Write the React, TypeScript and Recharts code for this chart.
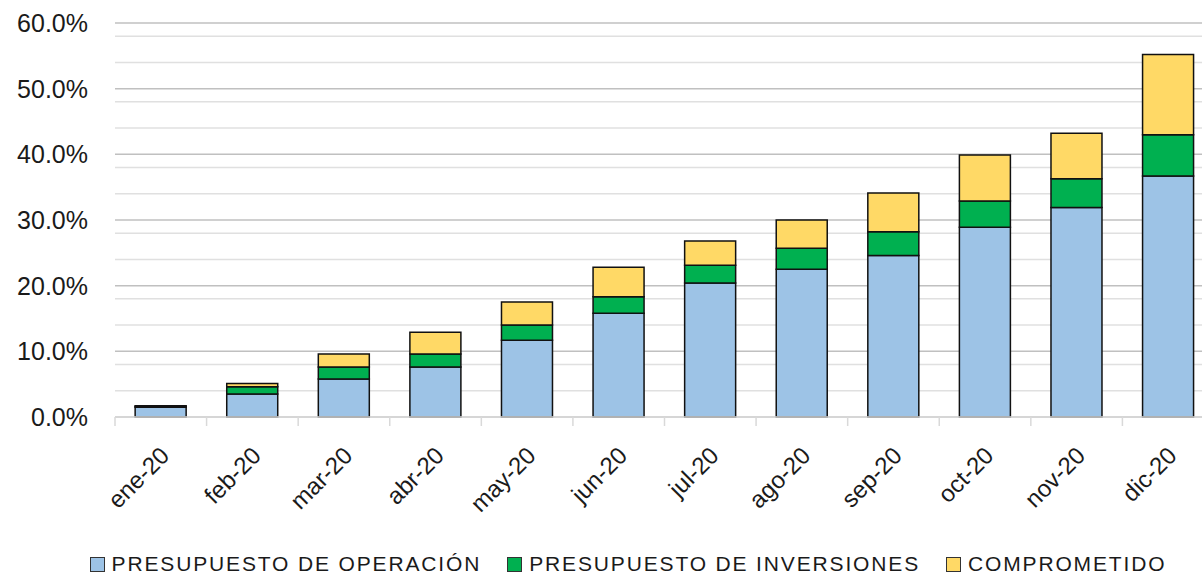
import React from "react"
import { Bar, BarChart, CartesianGrid, Legend, XAxis, YAxis } from "recharts"

const months = ["ene-20", "feb-20", "mar-20", "abr-20", "may-20", "jun-20", "jul-20", "ago-20", "sep-20", "oct-20", "nov-20", "dic-20"]
const operacion = [1.5, 3.5, 5.8, 7.6, 11.7, 15.8, 20.4, 22.5, 24.6, 28.9, 31.9, 36.7]
const inversiones = [0.1, 1.1, 1.8, 2.0, 2.3, 2.5, 2.7, 3.2, 3.6, 4.0, 4.4, 6.3]
const comprometido = [0.1, 0.5, 2.0, 3.3, 3.5, 4.5, 3.7, 4.3, 5.9, 7.0, 6.9, 12.2]

const yTicks = [0, 10, 20, 30, 40, 50, 60]
const minorLines = [2, 4, 6, 8, 12, 14, 16, 18, 22, 24, 26, 28, 32, 34, 36, 38, 42, 44, 46, 48, 52, 54, 56, 58]

const series = [
    { key: "operacion", name: "PRESUPUESTO DE OPERACIÓN", color: "#9dc3e6" },
    { key: "inversiones", name: "PRESUPUESTO DE INVERSIONES", color: "#00b050" },
    { key: "comprometido", name: "COMPROMETIDO", color: "#ffd966" },
]

const data = months.map((m, i) => ({
    month: m,
    operacion: operacion[i],
    inversiones: inversiones[i],
    comprometido: comprometido[i],
}))

const FONT = '"Liberation Sans", Arial, sans-serif'
const TEXT = "#1a1a1a"

const MonthTick = ({ x, y, payload }: any) => {
    const half = payload.offset || 0
    return (
        <g>
            <line x1={x - half} y1={y} x2={x - half} y2={y + 9} stroke="#d9d9d9" strokeWidth={1.5} />
            <g transform={`translate(${x + 10},${y + 40})`}>
                <text textAnchor="end" transform="rotate(-45)" fontSize={24} fontFamily={FONT} fill={TEXT}>
                    {payload.value}
                </text>
            </g>
        </g>
    )
}

const LegendBox = () => (
    <div style={{ display: "flex", justifyContent: "center", alignItems: "center", height: 40, paddingTop: 8, paddingLeft: 42, fontFamily: FONT, fontSize: 21, color: TEXT, letterSpacing: 1.85, whiteSpace: "nowrap" }}>
        {series.map((s, i) => (
            <div key={s.key} style={{ display: "flex", alignItems: "center", marginLeft: i ? 26 : 0 }}>
                <span style={{ width: 13, height: 13, background: s.color, border: "1px solid #333", marginRight: 7, display: "inline-block" }} />
                <span>{s.name}</span>
            </div>
        ))}
    </div>
)

export default function App() {
    return (
        <div style={{ position: "absolute", left: 0, top: 0, width: 1202, height: 576, overflow: "hidden", background: "#fff" }}>
            <BarChart width={1214} height={576} data={data} margin={{ top: 23, right: 0, bottom: 0, left: 0 }} barCategoryGap="22%">
                <CartesianGrid vertical={false} horizontalValues={minorLines} stroke="#e0e0e0" strokeWidth={1.5} />
                <CartesianGrid vertical={false} horizontalValues={yTicks} stroke="#c0c0c0" strokeWidth={1.5} />
                <XAxis
                    dataKey="month"
                    tick={<MonthTick />}
                    tickLine={false}
                    tickSize={0}
                    tickMargin={0}
                    axisLine={{ stroke: "#d9d9d9", strokeWidth: 1.5 }}
                    height={119}
                    interval={0}
                />
                <YAxis
                    domain={[0, 60]}
                    ticks={yTicks}
                    tickFormatter={(v: number) => v.toFixed(1) + "%"}
                    tick={{ fontSize: 25, fill: TEXT, fontFamily: FONT }}
                    axisLine={false}
                    tickLine={false}
                    tickMargin={21}
                    width={115}
                />
                <Legend verticalAlign="bottom" height={40} content={<LegendBox />} />
                {series.map((s) => (
                    <Bar key={s.key} dataKey={s.key} name={s.name} stackId="a" fill={s.color} stroke="#111" strokeWidth={1.5} isAnimationActive={false} />
                ))}
            </BarChart>
        </div>
    )
}
